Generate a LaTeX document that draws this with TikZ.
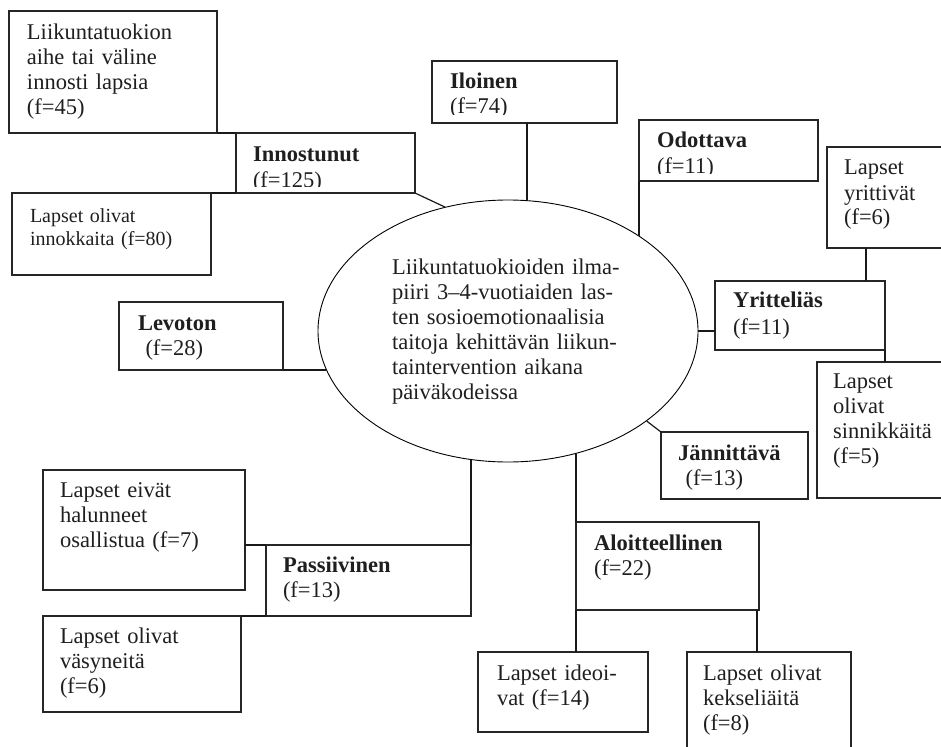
\documentclass[tikz,border=0pt]{standalone}
\usepackage{fontspec}
\setmainfont{Liberation Serif}
\usetikzlibrary{shapes.geometric}
\tikzset{
  bx/.style={draw=black!85, line width=1.2pt, anchor=north west, inner sep=0pt, outer sep=0pt},
  tx/.style={anchor=base west, inner sep=0pt, outer sep=0pt, align=left, text width=#1,
    font=\fontsize{22.5}{25}\selectfont, text=black!88},
  tx/.default=300pt,
  ln/.style={draw=black!90, line width=1.2pt},
}
\begin{document}
\begin{tikzpicture}[x=1pt,y=-1pt]
\clip (0,0) rectangle (941,746);
\fill[white] (0,0) rectangle (941,746);

% central ellipse
\node[draw=black, line width=0.9pt, ellipse, minimum width=380pt, minimum height=262pt, inner sep=0pt] (ell) at (508,331) {};
\node[tx=245pt] (ellT) at (392,274) {\makebox[240pt][s]{Liikuntatuokioiden ilma-}\\
\makebox[240pt][s]{piiri 3–4-vuotiaiden las-}\\
ten sosioemotionaalisia\\
\makebox[240pt][s]{taitoja kehittävän liikun-}\\
taintervention aikana\\
päiväkodeissa};

% boxes
\node[bx, minimum width=208pt, minimum height=122pt] (a) at (9,11) {};
\node[tx] (aT) at (27,40) {Liikuntatuokion\\aihe tai väline\\innosti lapsia\\(f=45)};

\node[bx, minimum width=179pt, minimum height=60pt] (inn) at (236,133) {};
\begin{scope}
\clip (236,133) rectangle (415,186);
\node[tx] (innT) at (253,162) {\textbf{Innostunut}\\(f=125)};
\end{scope}

\node[bx, minimum width=199pt, minimum height=82pt] (ink) at (12,193) {};
\node[tx, font=\fontsize{20}{23}\selectfont] (inkT) at (30,222) {Lapset olivat\\innokkaita (f=80)};

\node[bx, minimum width=185pt, minimum height=62pt] (ilo) at (432,61) {};
\begin{scope}
\clip (432,61) rectangle (617,115);
\node[tx] (iloT) at (450,89) {\textbf{Iloinen}\\(f=74)};
\end{scope}

\node[bx, minimum width=179pt, minimum height=61pt] (odo) at (639,120) {};
\begin{scope}
\clip (639,120) rectangle (818,173);
\node[tx] (odoT) at (657,148) {\textbf{Odottava}\\(f=11)};
\end{scope}

\node[bx, minimum width=140pt, minimum height=101pt] (yri) at (827,147) {};
\node[tx] (yriT) at (844,175) {Lapset\\yrittivät\\(f=6)};

\node[bx, minimum width=170pt, minimum height=69pt] (ytl) at (715,281) {};
\node[tx, font=\fontsize{22.5}{27.5}\selectfont] (ytlT) at (733,307) {\textbf{Yritteliäs}\\(f=11)};

\node[bx, minimum width=150pt, minimum height=136pt] (sin) at (817,362) {};
\node[tx] (sinT) at (833,388) {Lapset\\olivat\\sinnikkäitä\\(f=5)};

\node[bx, minimum width=147pt, minimum height=67pt] (jan) at (661,432) {};
\node[tx] (janT) at (678,460) {\textbf{Jännittävä}\\\ (f=13)};

\node[bx, minimum width=164pt, minimum height=68pt] (lev) at (119,302) {};
\node[tx] (levT) at (138,330) {\textbf{Levoton}\\\ (f=28)};

\node[bx, minimum width=202pt, minimum height=120pt] (eiv) at (43,470) {};
\node[tx] (eivT) at (60,497) {Lapset eivät\\halunneet\\osallistua (f=7)};

\node[bx, minimum width=205pt, minimum height=71pt] (pas) at (266,545) {};
\node[tx] (pasT) at (283,572) {\textbf{Passiivinen}\\(f=13)};

\node[bx, minimum width=198pt, minimum height=96pt] (vas) at (43,616) {};
\node[tx] (vasT) at (60,643) {Lapset olivat\\väsyneitä\\(f=6)};

\node[bx, minimum width=183pt, minimum height=88pt] (alo) at (576,522) {};
\node[tx] (aloT) at (594,550) {\textbf{Aloitteellinen}\\(f=22)};

\node[bx, minimum width=170pt, minimum height=80pt] (ide) at (478,652) {};
\node[tx] (ideT) at (497,680) {Lapset ideoi-\\vat (f=14)};

\node[bx, minimum width=164pt, minimum height=120pt] (kek) at (687,652) {};
\node[tx] (kekT) at (703,680) {Lapset olivat\\kekseliäitä\\(f=8)};

% connectors
\draw[ln] (a.south east) -- (inn.north west);
\draw[ln] (ink.north east) -- (inn.south west);
\draw[ln] (inn.south east) -- (ell.117);
\draw[ln] ([xshift=2.5pt]ilo.south) -- ([xshift=2.5pt]ilo.south |- ell.north);
\draw[ln] (odo.south west) -- (odo.south west |- ell.36);
\draw[ln] ([xshift=39pt]yri.south west) -- ([xshift=39pt]yri.south west |- ytl.north);
\draw[ln] (ell.east) -- (ell.east -| ytl.west);
\draw[ln] (ytl.south east) -- (ytl.south east |- sin.north);
\draw[ln] (ell.-33) -- (jan.north west);
\draw[ln] (lev.south east) -- (lev.south east -| ell.192);
\draw[ln] (pas.north east) -- (pas.north east |- ell.-106);
\draw[ln] (pas.north west) -- (pas.north west -| eiv.east);
\draw[ln] (pas.south west) -- (pas.south west -| vas.east);
\draw[ln] (alo.north west) -- (alo.north west |- ell.-61);
\draw[ln] (alo.south west) -- (alo.south west |- ide.north);
\draw[ln] ([xshift=-2pt]alo.south east) -- ([xshift=-2pt]alo.south east |- kek.north);
\end{tikzpicture}
\end{document}
